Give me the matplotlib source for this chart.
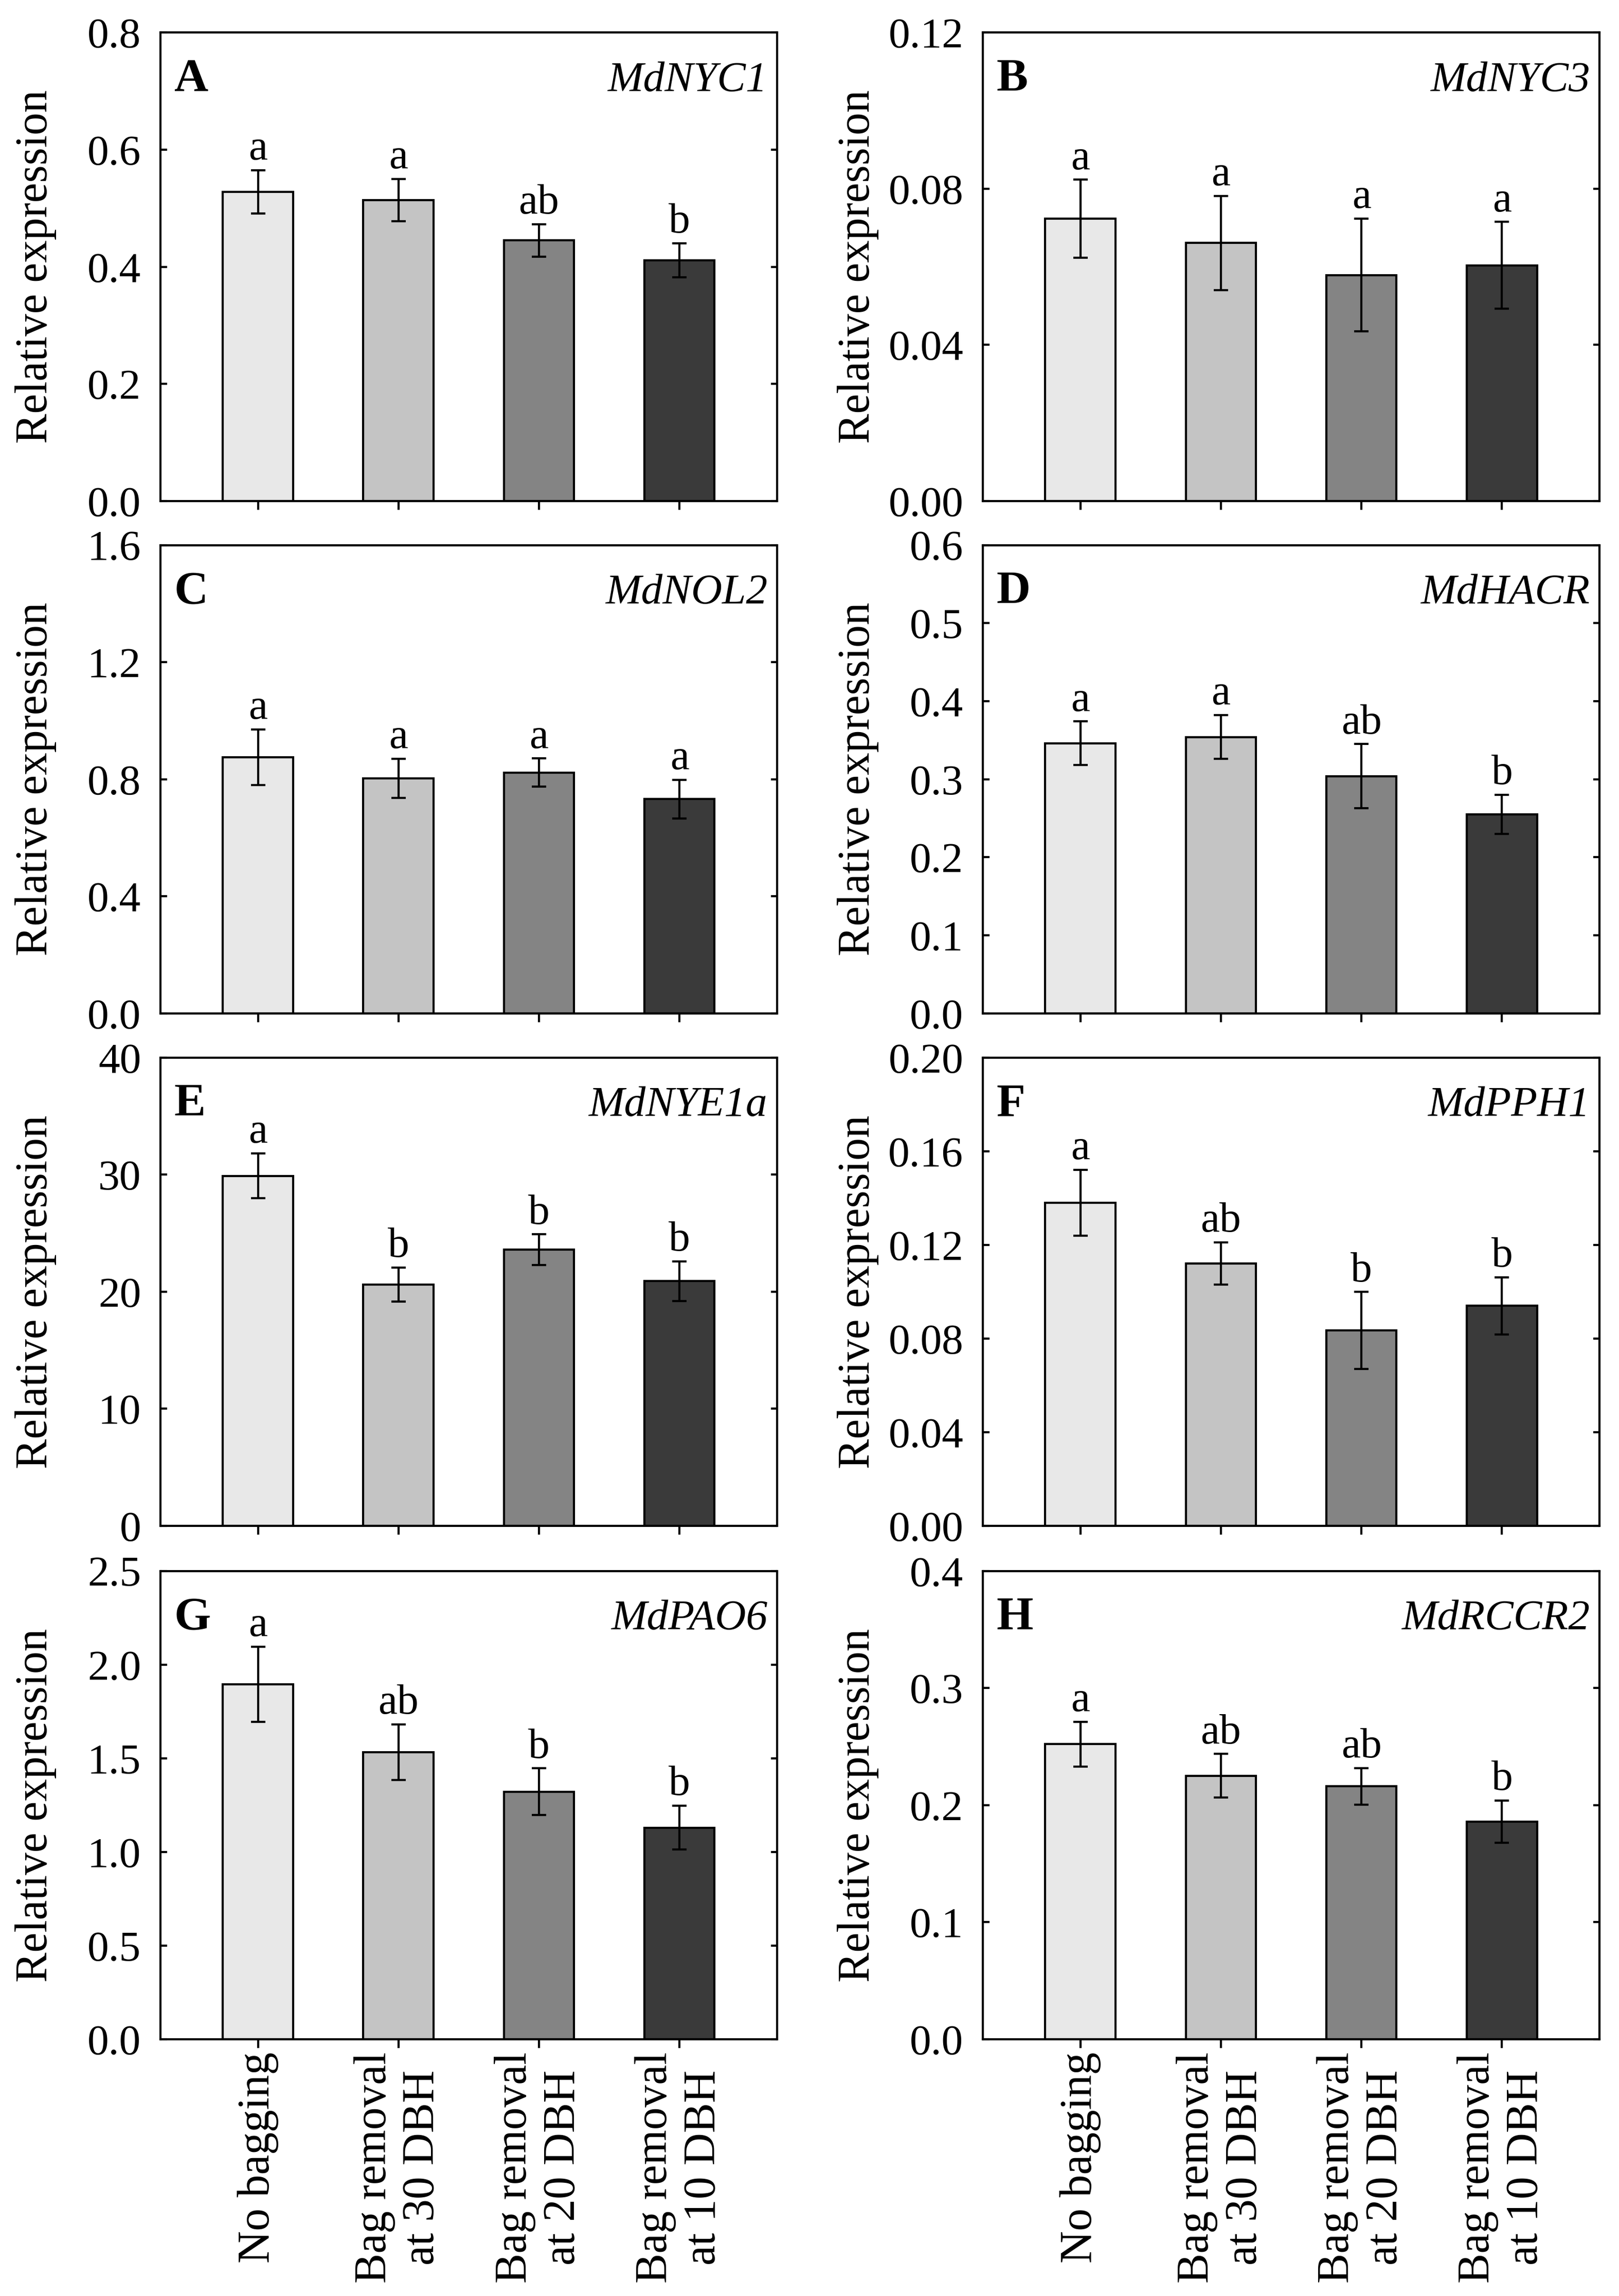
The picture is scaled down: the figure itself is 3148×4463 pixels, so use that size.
import matplotlib
matplotlib.use("Agg")
import matplotlib.pyplot as plt
import numpy as np

plt.rcParams['font.family'] = ['Liberation Serif', 'DejaVu Serif']

categories = ["No bagging", "Bag removal\nat 30 DBH", "Bag removal\nat 20 DBH", "Bag removal\nat 10 DBH"]
bar_colors = ["#e8e8e8", "#c4c4c4", "#848484", "#3a3a3a"]

panel_letters = ["A", "B", "C", "D", "E", "F", "G", "H"]
genes = ["MdNYC1", "MdNYC3", "MdNOL2", "MdHACR", "MdNYE1a", "MdPPH1", "MdPAO6", "MdRCCR2"]

nyc1_mean = [0.528, 0.514, 0.445, 0.411]
nyc1_err = [0.037, 0.036, 0.028, 0.029]
nyc1_sig = ["a", "a", "ab", "b"]

nyc3_mean = [0.0723, 0.0661, 0.0579, 0.0604]
nyc3_err = [0.0100, 0.0121, 0.0144, 0.0111]
nyc3_sig = ["a", "a", "a", "a"]

nol2_mean = [0.875, 0.803, 0.823, 0.732]
nol2_err = [0.095, 0.067, 0.048, 0.066]
nol2_sig = ["a", "a", "a", "a"]

hacr_mean = [0.346, 0.354, 0.304, 0.255]
hacr_err = [0.028, 0.028, 0.041, 0.025]
hacr_sig = ["a", "a", "ab", "b"]

nye1a_mean = [29.9, 20.6, 23.6, 20.9]
nye1a_err = [1.9, 1.45, 1.3, 1.7]
nye1a_sig = ["a", "b", "b", "b"]

pph1_mean = [0.138, 0.112, 0.0835, 0.094]
pph1_err = [0.014, 0.009, 0.0164, 0.0122]
pph1_sig = ["a", "ab", "b", "b"]

pao6_mean = [1.895, 1.532, 1.321, 1.129]
pao6_err = [0.200, 0.148, 0.125, 0.117]
pao6_sig = ["a", "ab", "b", "b"]

rccr2_mean = [0.252, 0.225, 0.216, 0.186]
rccr2_err = [0.019, 0.0187, 0.0157, 0.018]
rccr2_sig = ["a", "ab", "ab", "b"]

y_max = [0.8, 0.12, 1.6, 0.6, 40, 0.20, 2.5, 0.4]
y_step = [0.2, 0.04, 0.4, 0.1, 10, 0.04, 0.5, 0.1]
y_fmt = ["%.1f", "%.2f", "%.1f", "%.1f", "%d", "%.2f", "%.1f", "%.1f"]

means = [nyc1_mean, nyc3_mean, nol2_mean, hacr_mean, nye1a_mean, pph1_mean, pao6_mean, rccr2_mean]
errs = [nyc1_err, nyc3_err, nol2_err, hacr_err, nye1a_err, pph1_err, pao6_err, rccr2_err]
sigs = [nyc1_sig, nyc3_sig, nol2_sig, hacr_sig, nye1a_sig, pph1_sig, pao6_sig, rccr2_sig]

fig = plt.figure(figsize=(3148 / 300, 4463 / 300), dpi=300)

col_left = [0.099, 0.607]
ax_w = 0.381
row_bottom = [0.7818, 0.5586, 0.3354, 0.1118]
ax_h = 0.204

FS = 20
x = np.arange(len(categories))

for i in range(8):
    r, c = divmod(i, 2)
    ax = fig.add_axes([col_left[c], row_bottom[r], ax_w, ax_h])
    ax.bar(x, means[i], width=0.5, color=bar_colors, edgecolor="black", linewidth=1.0, zorder=2)
    ax.errorbar(x, means[i], yerr=errs[i], fmt="none", ecolor="black", elinewidth=1.0,
                capsize=3.4, capthick=1.0, zorder=3)
    for xi, m, e, s in zip(x, means[i], errs[i], sigs[i]):
        ax.annotate(s, (xi, m + e), xytext=(0, 5), textcoords="offset points",
                    ha="center", va="baseline", fontsize=FS)
    ax.set_xlim(-0.695, 3.695)
    ax.set_ylim(0, y_max[i])
    ticks = np.arange(0, y_max[i] + y_step[i] / 2, y_step[i])
    ax.set_yticks(ticks)
    ax.set_yticklabels([y_fmt[i] % t for t in ticks], fontsize=FS)
    ax.set_xticks(x)
    if r == 3:
        ax.set_xticklabels(categories, rotation=90, fontsize=21, ha="center", va="top",
                           multialignment="center")
    else:
        ax.set_xticklabels([])
    ax.tick_params(axis="y", direction="in", length=3, width=1.0, left=True, right=True, pad=9)
    ax.tick_params(axis="x", direction="out", length=4, width=1.0, top=False, pad=2)
    for sp in ax.spines.values():
        sp.set_linewidth(1.0)
    ax.set_ylabel("Relative expression", fontsize=21)
    ax.yaxis.set_label_coords(-0.168, 0.5)
    ax.text(0.022, 0.875, panel_letters[i], transform=ax.transAxes, fontsize=22,
            fontweight="bold", ha="left", va="baseline")
    ax.text(0.985, 0.875, genes[i], transform=ax.transAxes, fontsize=20,
            style="italic", ha="right", va="baseline")

fig.savefig("out.png", dpi=300)
